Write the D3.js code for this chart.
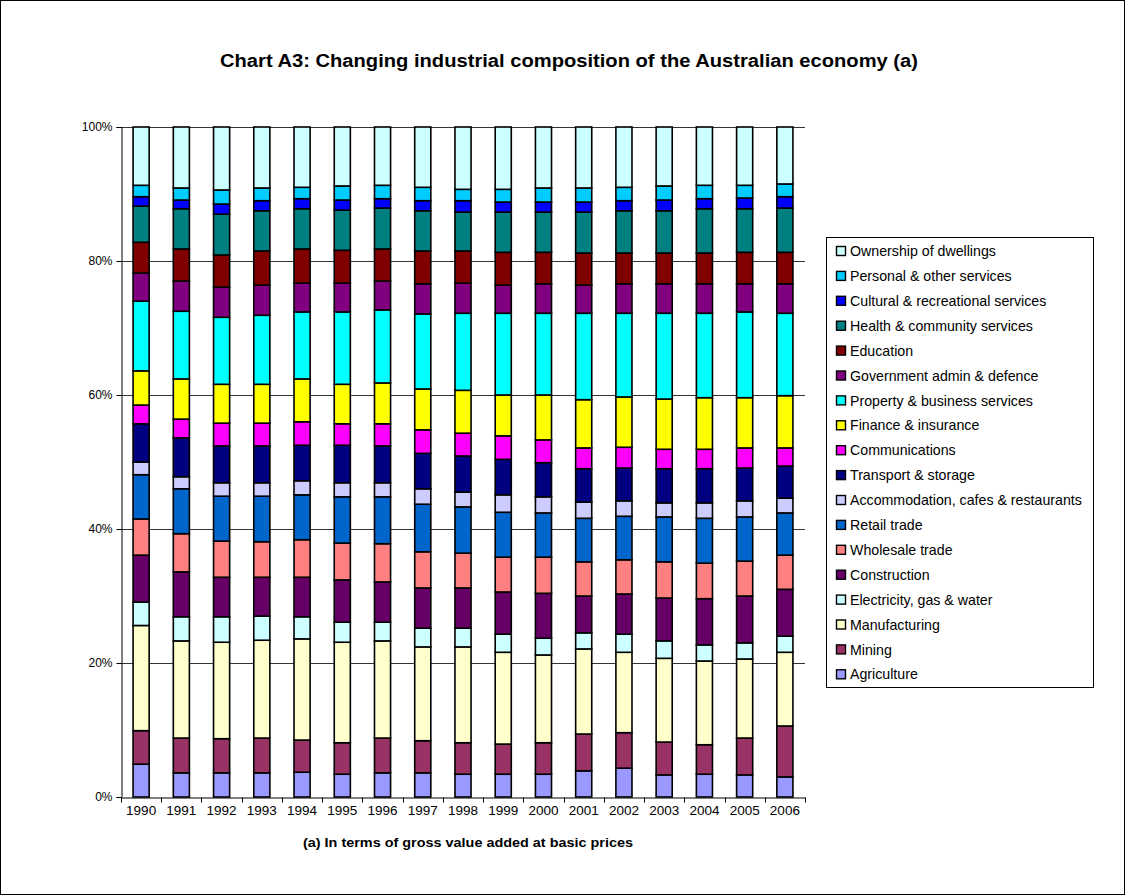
<!DOCTYPE html>
<html>
<head>
<meta charset="utf-8">
<script src="https://cdn.jsdelivr.net/npm/d3@7"></script>
<style>
  html, body { margin: 0; padding: 0; background: #fff; }
  svg { display: block; font-family: "Liberation Sans", Arial, sans-serif; }
</style>
</head>
<body>
<svg id="chart" width="1125" height="895"></svg>
<script>
// Financial years shown on the category axis
const years = ["1990","1991","1992","1993","1994","1995","1996","1997","1998",
               "1999","2000","2001","2002","2003","2004","2005","2006"];

// Industry shares of gross value added (%), one array per industry
const agriculture    = [4.9,3.6,3.6,3.6,3.7,3.4,3.6,3.6,3.4,3.4,3.4,3.9,4.3,3.3,3.4,3.3,3.0];
const mining         = [5.0,5.2,5.1,5.2,4.8,4.7,5.2,4.8,4.7,4.5,4.7,5.5,5.3,4.9,4.4,5.5,7.6];
const manufacturing  = [15.7,14.5,14.4,14.6,15.1,15.0,14.5,14.0,14.3,13.7,13.1,12.7,12.0,12.5,12.5,11.8,11.0];
const electricity    = [3.5,3.6,3.8,3.6,3.3,3.0,2.8,2.8,2.8,2.7,2.5,2.4,2.7,2.6,2.4,2.4,2.4];
const construction   = [7.0,6.7,5.9,5.8,5.9,6.3,6.0,6.0,6.0,6.3,6.7,5.5,6.0,6.4,6.9,7.0,7.0];
const wholesale      = [5.4,5.7,5.4,5.3,5.6,5.5,5.7,5.4,5.2,5.2,5.4,5.1,5.1,5.4,5.3,5.2,5.1];
const retail         = [6.6,6.7,6.7,6.8,6.7,6.9,7.0,7.1,6.9,6.7,6.6,6.5,6.5,6.7,6.7,6.6,6.3];
const accommodation  = [1.9,1.8,2.0,2.0,2.1,2.1,2.1,2.3,2.2,2.6,2.4,2.4,2.3,2.1,2.3,2.4,2.2];
const transport      = [5.7,5.8,5.5,5.5,5.3,5.6,5.5,5.3,5.4,5.3,5.1,5.0,4.9,5.1,5.1,4.9,4.8];
const communications = [2.8,2.8,3.4,3.4,3.5,3.2,3.3,3.5,3.4,3.5,3.4,3.1,3.1,2.9,2.9,3.0,2.7];
const finance        = [5.1,6.0,5.8,5.8,6.4,5.9,6.1,6.1,6.4,6.1,6.7,7.2,7.5,7.5,7.7,7.5,7.8];
const property       = [10.4,10.1,10.0,10.3,10.0,10.8,10.9,11.2,11.5,12.2,12.2,12.9,12.5,12.8,12.6,12.8,12.3];
const government     = [4.2,4.5,4.5,4.5,4.3,4.3,4.3,4.5,4.5,4.2,4.4,4.2,4.4,4.4,4.4,4.2,4.4];
const education      = [4.6,4.8,4.8,5.1,5.1,4.9,4.8,4.9,4.8,4.9,4.7,4.8,4.6,4.6,4.6,4.7,4.7];
const health         = [5.4,6.0,6.1,6.0,6.0,6.0,6.1,6.0,5.8,6.0,6.0,6.1,6.3,6.3,6.6,6.5,6.6];
const cultural       = [1.4,1.3,1.5,1.5,1.5,1.5,1.4,1.5,1.7,1.5,1.5,1.5,1.5,1.6,1.5,1.6,1.7];
const personal       = [1.7,1.8,2.1,1.9,1.7,2.1,2.0,2.0,1.7,1.9,2.1,2.1,2.0,2.1,2.0,1.9,1.9];
const dwellings      = [8.7,9.1,9.4,9.1,9.0,8.8,8.7,9.0,9.3,9.3,9.1,9.1,9.0,8.8,8.7,8.7,8.5];

// Industry names, bottom of the stack first
const industries = ["Agriculture","Mining","Manufacturing","Electricity, gas & water",
  "Construction","Wholesale trade","Retail trade","Accommodation, cafes & restaurants",
  "Transport & storage","Communications","Finance & insurance","Property & business services",
  "Government admin & defence","Education","Health & community services",
  "Cultural & recreational services","Personal & other services","Ownership of dwellings"];

const seriesValues = [agriculture, mining, manufacturing, electricity, construction, wholesale,
  retail, accommodation, transport, communications, finance, property, government, education,
  health, cultural, personal, dwellings];

const colours = ["#9999FF","#993366","#FFFFCC","#CCFFFF","#660066","#FF8080","#0066CC",
  "#CCCCFF","#000080","#FF00FF","#FFFF00","#00FFFF","#800080","#800000","#008080",
  "#0000FF","#00CCFF","#CCFFFF"];

const yTicks = [0, 0.2, 0.4, 0.6, 0.8, 1];

// One row per year for d3.stack
const table = years.map((yr, i) => {
  const row = { year: yr };
  industries.forEach((name, k) => { row[name] = seriesValues[k][i]; });
  return row;
});

const svg = d3.select("#chart");
const W = 1125, H = 895;
const plot = { left: 121, right: 805, top: 127, bottom: 797 };

// Outer frame
svg.append("rect").attr("x", 0.5).attr("y", 0.5).attr("width", W - 1).attr("height", H - 1)
  .attr("fill", "#fff").attr("stroke", "#000").attr("stroke-width", 1);

// Title
svg.append("text").attr("x", 569).attr("y", 67).attr("text-anchor", "middle")
  .attr("font-weight", "bold").attr("font-size", 18)
  .attr("textLength", 698).attr("lengthAdjust", "spacingAndGlyphs")
  .text("Chart A3: Changing industrial composition of the Australian economy (a)");

const x = d3.scaleBand().domain(years).range([plot.left, plot.right])
  .paddingInner(0.6).paddingOuter(0.3);
const y = d3.scaleLinear().domain([0, 1]).range([plot.bottom, plot.top]);

const stack = d3.stack().keys(industries).offset(d3.stackOffsetExpand);
const layers = stack(table);

// Horizontal gridlines
svg.append("g").selectAll("line").data(yTicks.filter(t => t > 0)).join("line")
  .attr("x1", plot.left).attr("x2", plot.right)
  .attr("y1", d => Math.round(y(d)) + 0.5).attr("y2", d => Math.round(y(d)) + 0.5)
  .attr("stroke", "#333").attr("stroke-width", 1);

// Stacked bars
svg.append("g").selectAll("g").data(layers).join("g")
  .attr("fill", (d, i) => colours[i])
  .selectAll("rect").data(d => d).join("rect")
  .attr("x", d => x(d.data.year))
  .attr("width", x.bandwidth())
  .attr("y", d => y(d[1]))
  .attr("height", d => y(d[0]) - y(d[1]))
  .attr("stroke", "#000").attr("stroke-width", 1.6);

// Y axis
const yAxis = d3.axisLeft(y).tickValues(yTicks).tickSize(5)
  .tickFormat(d3.format(".0%"));
const gy = svg.append("g").attr("transform", `translate(${plot.left + 0.5},0)`).call(yAxis);
gy.select(".domain").attr("stroke", "#000");
gy.selectAll(".tick line").attr("stroke", "#000");
gy.selectAll(".tick text").attr("font-size", 12).attr("font-family", "Liberation Sans, Arial, sans-serif")
  .attr("fill", "#000").attr("x", -9);

// X axis with ticks between categories
const xAxis = d3.axisBottom(x).tickSize(0).tickSizeOuter(0);
const gx = svg.append("g").attr("transform", `translate(0,${plot.bottom + 0.5})`).call(xAxis);
gx.select(".domain").attr("stroke", "#000");
gx.selectAll(".tick text").attr("font-size", 13.5).attr("font-family", "Liberation Sans, Arial, sans-serif")
  .attr("fill", "#000").attr("dy", "1.05em");
const step = x.step();
gx.append("g").selectAll("line").data(d3.range(years.length + 1)).join("line")
  .attr("x1", i => Math.round(plot.left + i * step) + 0.5)
  .attr("x2", i => Math.round(plot.left + i * step) + 0.5)
  .attr("y1", 0).attr("y2", 5).attr("stroke", "#000");

// Footnote
svg.append("text").attr("x", 468).attr("y", 847).attr("text-anchor", "middle")
  .attr("font-weight", "bold").attr("font-size", 13)
  .attr("textLength", 330).attr("lengthAdjust", "spacingAndGlyphs")
  .text("(a) In terms of gross value added at basic prices");

// Legend, top entry is the top of the stack
const legend = svg.append("g");
legend.append("rect").attr("x", 826.5).attr("y", 237.5).attr("width", 267).attr("height", 450)
  .attr("fill", "#fff").attr("stroke", "#000");
const legendItems = industries.map((name, i) => ({ name, colour: colours[i] })).reverse();
const li = legend.selectAll("g.item").data(legendItems).join("g")
  .attr("class", "item")
  .attr("transform", (d, i) => `translate(0,${251 + i * 24.9})`);
li.append("rect").attr("x", 836.5).attr("y", -4.5).attr("width", 9).attr("height", 9)
  .attr("fill", d => d.colour).attr("stroke", "#000").attr("stroke-width", 1.4);
li.append("text").attr("x", 850).attr("y", 0).attr("dy", "0.36em")
  .attr("font-size", 14.2).text(d => d.name);
</script>
</body>
</html>
